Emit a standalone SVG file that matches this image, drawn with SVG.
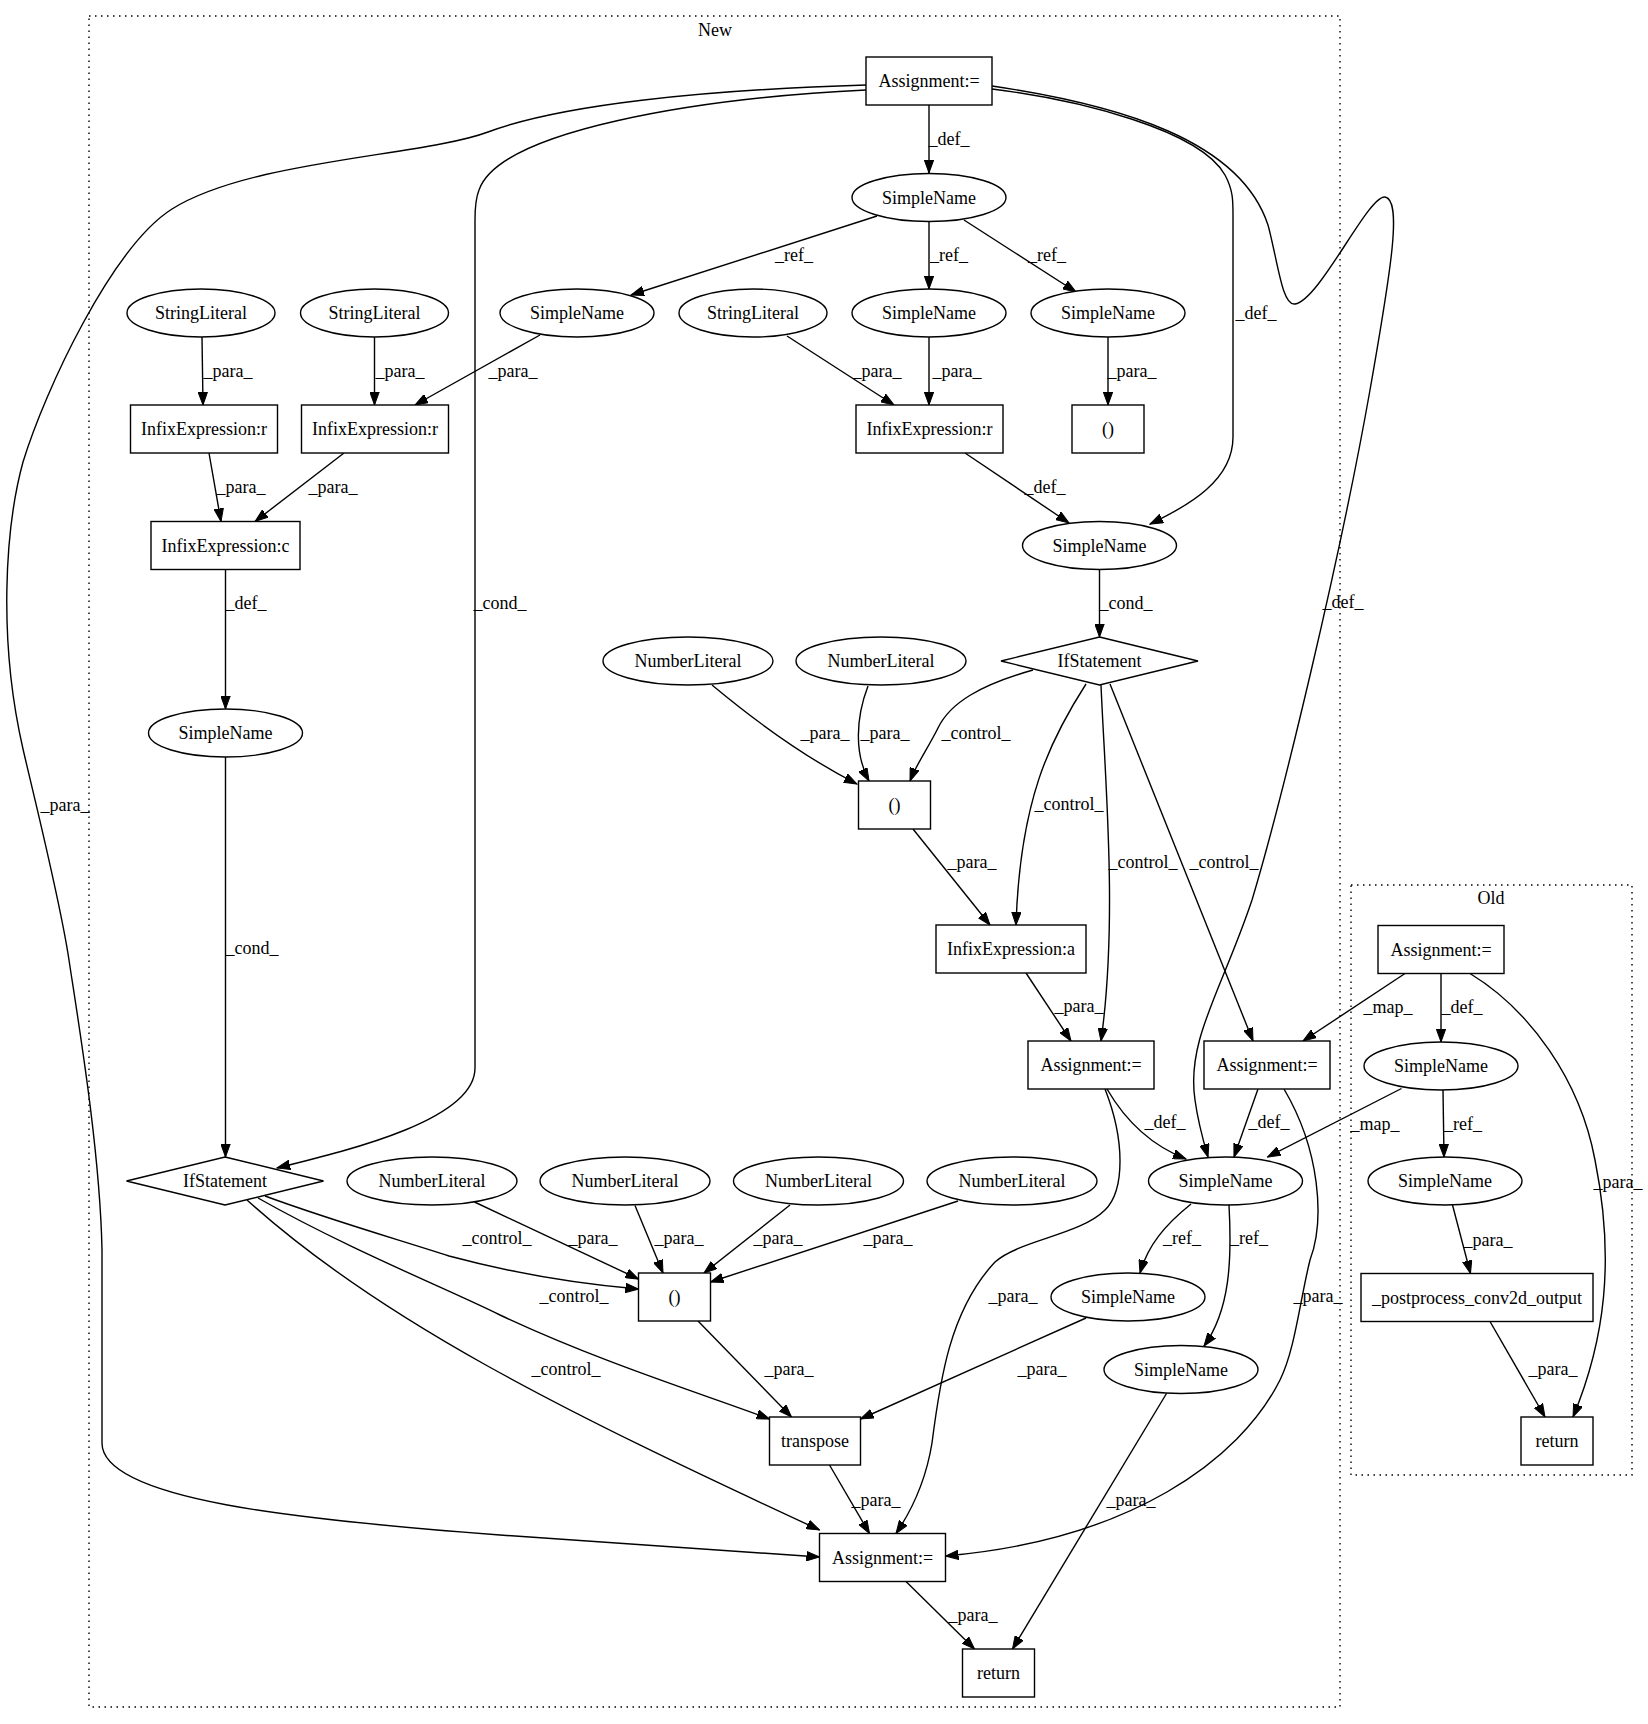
<svg xmlns="http://www.w3.org/2000/svg" width="1648" height="1724" viewBox="0 0 1648 1724">
<style>
text{font-family:"Liberation Serif","Times New Roman",serif;font-size:18px;fill:#000;text-anchor:middle}
.n rect,.n ellipse,.n polygon{fill:#fff;stroke:#000;stroke-width:1.4}
.cl{fill:none;stroke:#000;stroke-width:1.4;stroke-dasharray:1.5,4.5}
#edges path{fill:none;stroke:#000;stroke-width:1.4;marker-end:url(#ah)}
</style>
<defs>
<marker id="ah" markerWidth="14" markerHeight="10" refX="13" refY="5" orient="auto" markerUnits="userSpaceOnUse"><path d="M0,0.3 L13,5 L0,9.7 z" fill="#000" stroke="#000" stroke-width="1"/></marker>
</defs>
<rect width="1648" height="1724" fill="#fff"/>
<g id="clusters">
<rect class="cl" x="89" y="16" width="1251" height="1691"/>
<text x="715" y="36">New</text>
<rect class="cl" x="1351" y="885" width="281" height="590"/>
<text x="1491" y="904">Old</text>
</g>
<g id="edges">
<path d="M929,105 L929,173"/>
<path d="M877,216 L631,295"/>
<path d="M929,221.5 L929,289"/>
<path d="M964,220 L1076,292"/>
<path d="M202,337 L203,405"/>
<path d="M374.5,337 L374.5,405"/>
<path d="M540,335 L415,405"/>
<path d="M787,336 L894,405"/>
<path d="M929,337 L929,405"/>
<path d="M1108,337 L1108,405"/>
<path d="M209,453 L221,521.5"/>
<path d="M344,453 L255,521.5"/>
<path d="M965,453 L1069,523"/>
<path d="M992,89 C1080,100 1200,130 1225,175 C1233,190 1233,200 1233,215 L1233,437 C1233,480 1190,505 1150,524"/>
<path d="M992,86 C1120,105 1240,140 1268,225 C1278,262 1282,306 1295,304 C1320,300 1368,195 1385,197 C1402,200 1392,265 1370,390 C1340,560 1282,800 1252,900 C1222,990 1186,1040 1195,1100 C1198,1122 1203,1140 1208,1157"/>
<path d="M866,90 C700,98 500,130 479,190 C475,200 475,210 475,220 L475,1068 C475,1120 350,1150 277,1168"/>
<path d="M866,85 C700,90 560,105 488,132 C424,156 250,160 172,209 C112,247 45,390 23,462 C5,528 -2,640 23,749 C35,801 60,900 69,960 C78,1020 100,1150 102,1250 L102,1443 C102,1500 300,1520 500,1535 C650,1546 750,1553 819.5,1557"/>
<path d="M225.5,569.5 L225.5,709"/>
<path d="M225.5,757 L225.5,1157"/>
<path d="M1099.5,569.5 L1099.5,637"/>
<path d="M712,685 C760,725 810,760 857,784"/>
<path d="M868,686 C855,720 855,755 869,781"/>
<path d="M1033,670 C980,685 950,703 938,728 C928,748 916,765 910,781"/>
<path d="M1086,684 C1050,740 1020,800 1016,925"/>
<path d="M1101,685 C1105,780 1118,920 1101,1041"/>
<path d="M1110,684 L1253,1041"/>
<path d="M913,829 L990,925"/>
<path d="M1026,973 L1071,1041"/>
<path d="M1107,1089 C1125,1120 1150,1145 1186,1159"/>
<path d="M1258,1089 L1234,1157"/>
<path d="M1105,1089 C1125,1140 1125,1190 1105,1210 C1080,1235 1020,1240 995,1262 C950,1310 940,1380 932,1443 C926,1480 912,1510 896,1533.5"/>
<path d="M1284,1089 C1320,1150 1325,1220 1310,1260 C1300,1300 1295,1350 1280,1380 C1240,1460 1130,1540 945.5,1556"/>
<path d="M1191,1204 C1165,1225 1148,1245 1140,1273"/>
<path d="M1229,1205 C1232,1260 1230,1310 1204,1346"/>
<path d="M265,1196 C330,1220 400,1240 449,1256 C520,1275 580,1284 638.5,1289"/>
<path d="M258,1198 C350,1250 450,1290 500,1315 C600,1362 700,1393 769.5,1419"/>
<path d="M247,1200 C380,1320 560,1410 819.5,1530"/>
<path d="M474.5,1202 L638.5,1279"/>
<path d="M635,1205.5 L663,1273"/>
<path d="M790,1205 L704,1273"/>
<path d="M958,1201 L710.5,1282"/>
<path d="M698,1321 L791.5,1417"/>
<path d="M1086,1318 L860.5,1419"/>
<path d="M829.5,1465 L869.5,1533.5"/>
<path d="M906,1581.5 L974.5,1649"/>
<path d="M1166.5,1393.5 L1012.5,1649"/>
<path d="M1405,973.5 L1303,1041"/>
<path d="M1441,973.5 L1441,1042"/>
<path d="M1470,973.5 C1530,1010 1580,1080 1595,1160 C1615,1260 1605,1340 1573,1417"/>
<path d="M1401.5,1088.5 L1267.5,1157"/>
<path d="M1443,1090 L1444,1157"/>
<path d="M1452.5,1205 L1470.5,1273.5"/>
<path d="M1490,1321.5 L1545,1417"/>
</g>
<g id="edge-labels">
<text x="949" y="145">_def_</text>
<text x="794" y="261">_ref_</text>
<text x="949" y="261">_ref_</text>
<text x="1047" y="261">_ref_</text>
<text x="228" y="377">_para_</text>
<text x="400" y="377">_para_</text>
<text x="513" y="377">_para_</text>
<text x="877" y="377">_para_</text>
<text x="957" y="377">_para_</text>
<text x="1132" y="377">_para_</text>
<text x="241" y="493">_para_</text>
<text x="333" y="493">_para_</text>
<text x="1045" y="493">_def_</text>
<text x="1256" y="319">_def_</text>
<text x="1343" y="608">_def_</text>
<text x="500" y="609">_cond_</text>
<text x="65" y="811">_para_</text>
<text x="246" y="609">_def_</text>
<text x="252" y="954">_cond_</text>
<text x="1126" y="609">_cond_</text>
<text x="825" y="739">_para_</text>
<text x="885" y="739">_para_</text>
<text x="976" y="739">_control_</text>
<text x="1069" y="810">_control_</text>
<text x="1143" y="868">_control_</text>
<text x="1224" y="868">_control_</text>
<text x="972" y="868">_para_</text>
<text x="1079" y="1012">_para_</text>
<text x="1165" y="1128">_def_</text>
<text x="1269" y="1128">_def_</text>
<text x="1013" y="1302">_para_</text>
<text x="1318" y="1302">_para_</text>
<text x="1182" y="1244">_ref_</text>
<text x="1249" y="1244">_ref_</text>
<text x="497" y="1244">_control_</text>
<text x="574" y="1302">_control_</text>
<text x="566" y="1375">_control_</text>
<text x="593" y="1244">_para_</text>
<text x="679" y="1244">_para_</text>
<text x="778" y="1244">_para_</text>
<text x="888" y="1244">_para_</text>
<text x="789" y="1375">_para_</text>
<text x="1042" y="1375">_para_</text>
<text x="876" y="1506">_para_</text>
<text x="973" y="1621">_para_</text>
<text x="1131" y="1506">_para_</text>
<text x="1388" y="1013">_map_</text>
<text x="1462" y="1013">_def_</text>
<text x="1618" y="1188">_para_</text>
<text x="1375" y="1130">_map_</text>
<text x="1463" y="1130">_ref_</text>
<text x="1488" y="1246">_para_</text>
<text x="1553" y="1375">_para_</text>
</g>
<g id="nodes">
<g id="a1" class="n"><rect x="866" y="57" width="126" height="48"/><text x="929" y="87">Assignment:=</text></g>
<g id="sn1" class="n"><ellipse cx="929" cy="197.5" rx="77" ry="24"/><text x="929" y="203.5">SimpleName</text></g>
<g id="sl1" class="n"><ellipse cx="201" cy="313" rx="74" ry="24"/><text x="201" y="319">StringLiteral</text></g>
<g id="sl2" class="n"><ellipse cx="374.5" cy="313" rx="74" ry="24"/><text x="374.5" y="319">StringLiteral</text></g>
<g id="snl" class="n"><ellipse cx="577" cy="313" rx="77" ry="24"/><text x="577" y="319">SimpleName</text></g>
<g id="sl3" class="n"><ellipse cx="753" cy="313" rx="74" ry="24"/><text x="753" y="319">StringLiteral</text></g>
<g id="snm" class="n"><ellipse cx="929" cy="313" rx="77" ry="24"/><text x="929" y="319">SimpleName</text></g>
<g id="snr" class="n"><ellipse cx="1108" cy="313" rx="77" ry="24"/><text x="1108" y="319">SimpleName</text></g>
<g id="ier1" class="n"><rect x="130.5" y="405" width="147" height="48"/><text x="204" y="435">InfixExpression:r</text></g>
<g id="ier2" class="n"><rect x="301.5" y="405" width="147" height="48"/><text x="375" y="435">InfixExpression:r</text></g>
<g id="ier3" class="n"><rect x="856" y="405" width="147" height="48"/><text x="929.5" y="435">InfixExpression:r</text></g>
<g id="p1" class="n"><rect x="1072" y="405" width="72" height="48"/><text x="1108" y="435">()</text></g>
<g id="iec" class="n"><rect x="151" y="521.5" width="149" height="48"/><text x="225.5" y="551.5">InfixExpression:c</text></g>
<g id="sndef" class="n"><ellipse cx="1099.5" cy="545.5" rx="77" ry="24"/><text x="1099.5" y="551.5">SimpleName</text></g>
<g id="snleft" class="n"><ellipse cx="225.5" cy="733" rx="77" ry="24"/><text x="225.5" y="739">SimpleName</text></g>
<g id="nl1" class="n"><ellipse cx="688" cy="661" rx="85" ry="24"/><text x="688" y="667">NumberLiteral</text></g>
<g id="nl2" class="n"><ellipse cx="881" cy="661" rx="85" ry="24"/><text x="881" y="667">NumberLiteral</text></g>
<g id="ifr" class="n"><polygon points="1099.5,637 1198,661 1099.5,685 1001,661"/><text x="1099.5" y="667">IfStatement</text></g>
<g id="p2" class="n"><rect x="858.5" y="781" width="72" height="48"/><text x="894.5" y="811">()</text></g>
<g id="iea" class="n"><rect x="936" y="925" width="150" height="48"/><text x="1011" y="955">InfixExpression:a</text></g>
<g id="asm" class="n"><rect x="1028" y="1041" width="126" height="48"/><text x="1091" y="1071">Assignment:=</text></g>
<g id="asr" class="n"><rect x="1204" y="1041" width="126" height="48"/><text x="1267" y="1071">Assignment:=</text></g>
<g id="ifl" class="n"><polygon points="225,1157 323.5,1181 225,1205 126.5,1181"/><text x="225" y="1187">IfStatement</text></g>
<g id="nl3" class="n"><ellipse cx="432" cy="1181" rx="85" ry="24"/><text x="432" y="1187">NumberLiteral</text></g>
<g id="nl4" class="n"><ellipse cx="625" cy="1181" rx="85" ry="24"/><text x="625" y="1187">NumberLiteral</text></g>
<g id="nl5" class="n"><ellipse cx="818.5" cy="1181" rx="85" ry="24"/><text x="818.5" y="1187">NumberLiteral</text></g>
<g id="nl6" class="n"><ellipse cx="1012" cy="1181" rx="85" ry="24"/><text x="1012" y="1187">NumberLiteral</text></g>
<g id="snb" class="n"><ellipse cx="1225.5" cy="1181" rx="77" ry="24"/><text x="1225.5" y="1187">SimpleName</text></g>
<g id="p3" class="n"><rect x="638.5" y="1273" width="72" height="48"/><text x="674.5" y="1303">()</text></g>
<g id="snr1" class="n"><ellipse cx="1128" cy="1297" rx="77" ry="24"/><text x="1128" y="1303">SimpleName</text></g>
<g id="snr2" class="n"><ellipse cx="1181" cy="1369.5" rx="77" ry="24"/><text x="1181" y="1375.5">SimpleName</text></g>
<g id="tr" class="n"><rect x="769.5" y="1417" width="91" height="48"/><text x="815" y="1447">transpose</text></g>
<g id="asb" class="n"><rect x="819.5" y="1533.5" width="126" height="48"/><text x="882.5" y="1563.5">Assignment:=</text></g>
<g id="retn" class="n"><rect x="962.5" y="1649" width="72" height="48"/><text x="998.5" y="1679">return</text></g>
<g id="aso" class="n"><rect x="1378" y="925.5" width="126" height="48"/><text x="1441" y="955.5">Assignment:=</text></g>
<g id="sno1" class="n"><ellipse cx="1441" cy="1066" rx="77" ry="24"/><text x="1441" y="1072">SimpleName</text></g>
<g id="sno2" class="n"><ellipse cx="1445" cy="1181" rx="77" ry="24"/><text x="1445" y="1187">SimpleName</text></g>
<g id="pp" class="n"><rect x="1361" y="1273.5" width="232" height="48"/><text x="1477" y="1303.5">_postprocess_conv2d_output</text></g>
<g id="reto" class="n"><rect x="1521" y="1417" width="72" height="48"/><text x="1557" y="1447">return</text></g>
</g>
</svg>
